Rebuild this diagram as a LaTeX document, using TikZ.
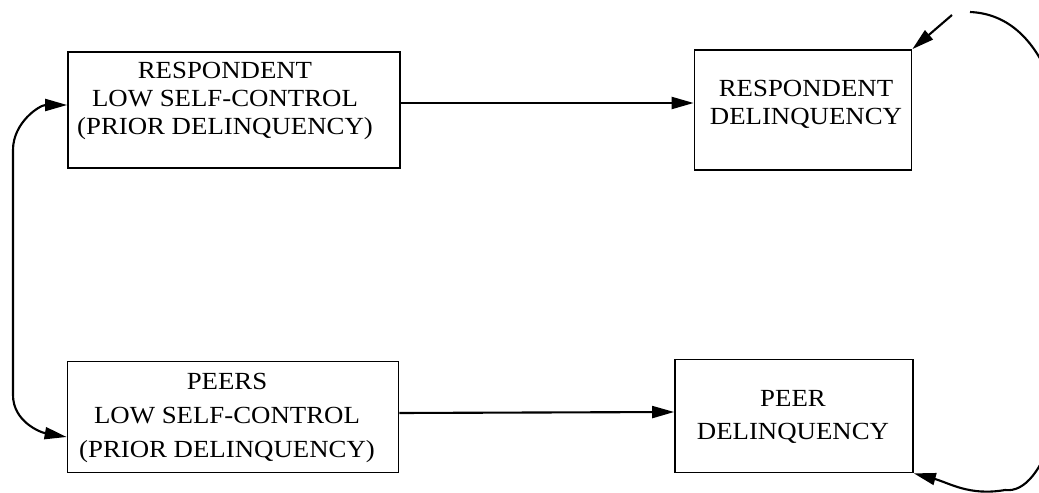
\documentclass[tikz,border=0pt]{standalone}
\usepackage{fontspec}
\setmainfont{Liberation Serif}[FakeStretch=1.09]
\usetikzlibrary{arrows.meta}
\begin{document}
\begin{tikzpicture} [
  x=0.02cm, y=-0.02cm,
  box/.style={draw, line width=1pt, inner sep=0pt},
  txt/.style={align=center, inner sep=0pt, font=\fontsize{14}{16}\selectfont},
  arr/.style={line width=1.2pt, -{Triangle[length=4.4mm,width=2.4mm]}},
  dbl/.style={line width=1.2pt, {Triangle[length=4.4mm,width=2.4mm]}-{Triangle[length=4.4mm,width=2.4mm]}}]
\useasboundingbox (0,0) rectangle (1039,493);
\node[box, minimum width=6.64cm, minimum height=2.32cm] (rlsc) at (234,110) {};
\node[box, minimum width=4.34cm, minimum height=2.4cm] (rdel) at (803,110) {};
\node[box, minimum width=6.62cm, minimum height=2.22cm] (plsc) at (233,417) {};
\node[box, minimum width=4.76cm, minimum height=2.26cm] (pdel) at (794,416) {};
\node[txt] (rlsc-t) at (225,101) {RESPONDENT\\LOW SELF-CONTROL\\(PRIOR DELINQUENCY)};
\node[txt] (rdel-t) at (806,104) {RESPONDENT\\DELINQUENCY};
\node[txt, font=\fontsize{14}{19.5}\selectfont] (plsc-t) at (227,418) {PEERS\\LOW SELF-CONTROL\\(PRIOR DELINQUENCY)};
\node[txt, font=\fontsize{14}{18.5}\selectfont] (pdel-t) at (793,417) {PEER\\DELINQUENCY};
\coordinate (bt) at (952,15);
\coordinate (rt) at (970,12);
\draw[arr] ([yshift=0.14cm]rlsc.east) -- ([yshift=0.14cm]rdel.west);
\draw[arr] ([yshift=0.08cm]plsc.east) -- ([yshift=0.08cm]pdel.west);
\draw[dbl] ([yshift=0.1cm]rlsc.west) to[out=180,in=90] (13,150) -- (13,395) to[out=-90,in=170] ([yshift=-0.4cm]plsc.west);
\draw[arr] (bt) -- (rdel.north east);
\draw[arr] (rt) .. controls (1040,15) and (1075,100) .. (1075,250) .. controls (1075,400) and (1045,495) .. (1005,490) to[out=190,in=-15] (pdel.south east);
\end{tikzpicture}
\end{document}
